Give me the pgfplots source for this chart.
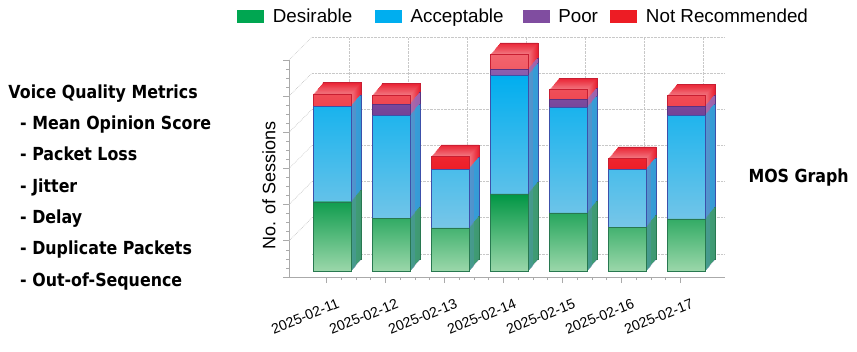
\documentclass[border=0pt]{standalone}
\usepackage{pgfplots}
\usepackage{pgfplotstable}
\pgfplotsset{compat=1.18}
\usepackage{fontspec}
\setmainfont{Liberation Sans}
\newfontfamily\lfont[FakeStretch=0.88]{DejaVu Sans}

\definecolor{gTop}{RGB}{0,150,68}
\definecolor{gBot}{RGB}{155,215,170}
\definecolor{gSide}{RGB}{40,170,95}
\definecolor{gEdge}{RGB}{40,120,80}
\definecolor{bTop}{RGB}{0,174,239}
\definecolor{bBot}{RGB}{120,198,232}
\definecolor{bSide}{RGB}{20,176,236}
\definecolor{bEdge}{RGB}{60,80,170}
\definecolor{pTop}{RGB}{140,95,175}
\definecolor{pBot}{RGB}{115,65,150}
\definecolor{pSide}{RGB}{150,105,185}
\definecolor{pEdge}{RGB}{90,50,130}
\definecolor{rTop}{RGB}{242,100,110}
\definecolor{rBot}{RGB}{237,30,40}
\definecolor{rNear}{RGB}{242,120,130}
\definecolor{rFar}{RGB}{234,36,52}
\definecolor{rEdge}{RGB}{200,30,50}
\definecolor{legGreen}{RGB}{0,166,81}
\definecolor{legBlue}{RGB}{0,174,239}
\definecolor{legPurple}{RGB}{128,77,160}
\definecolor{legRed}{RGB}{237,28,36}
\definecolor{gridc}{RGB}{200,200,200}
\definecolor{axisc}{RGB}{170,170,170}

\pgfplotstableread{
x green blue purple red
0 38.3 52.8 0 6.8
1 29.1 57.0 6.2 5.0
2 23.8 32.6 0 7.0
3 42.7 65.6 3.2 8.3
4 32.2 58.2 4.4 5.5
5 24.3 31.9 0 6.1
6 28.8 57.3 4.9 6.0
}\sessions

\begin{document}
\begin{tikzpicture}
\path[use as bounding box] (0,0) rectangle (857pt,351pt);

% back wall grid
\begin{axis}[at={(312pt,97pt)}, anchor=south west, scale only axis,
  width=413pt, height=217pt,
  xmin=-0.737, xmax=6.263, ymin=-3.32, ymax=116.68,
  xtick={-0.1,0.9,1.9,2.9,3.9,4.9,5.9},
  ytick={-3.32,16.68,36.68,56.68,76.68,96.68,116.68},
  xticklabels={}, yticklabels={},
  grid=major, major grid style={gridc, densely dotted, line width=0.7pt},
  axis line style={draw=none}, tick style={draw=none}]
\end{axis}

% extruded depth of the bars (side and top faces)
\begin{axis}[at={(289pt,74pt)}, anchor=south west, scale only axis,
  width=436pt, height=217pt,
  xmin=-0.737, xmax=6.653, ymin=-3.32, ymax=116.68,
  hide axis, clip=false, ybar, bar width=38pt]
% rearmost copy with outline
\addplot[bar shift=0pt, xshift=9.5pt, yshift=11.5pt, fill=rFar, draw=rEdge, line width=0.4pt]
  table[x=x, y expr=\thisrow{green}+\thisrow{blue}+\thisrow{purple}+\thisrow{red}] {\sessions};
\addplot[bar shift=0pt, xshift=9.5pt, yshift=11.5pt, fill=pSide, draw=pEdge, line width=0.4pt]
  table[x=x, y expr=\thisrow{green}+\thisrow{blue}+\thisrow{purple}] {\sessions};
\addplot[bar shift=0pt, xshift=9.5pt, yshift=11.5pt, fill=bSide, draw=bEdge, line width=0.4pt]
  table[x=x, y expr=\thisrow{green}+\thisrow{blue}] {\sessions};
\addplot[bar shift=0pt, xshift=9.5pt, yshift=11.5pt, fill=gSide, draw=gEdge, line width=0.4pt]
  table[x=x, y=green] {\sessions};
\pgfplotsinvokeforeach{9,8,7,6,5,4,3,2,1}{
\addplot[bar shift=0pt, xshift=#1*0.95pt, yshift=#1*1.15pt, fill=rFar!#10!rNear, draw=none]
  table[x=x, y expr=\thisrow{green}+\thisrow{blue}+\thisrow{purple}+\thisrow{red}] {\sessions};
\addplot[bar shift=0pt, xshift=#1*0.95pt, yshift=#1*1.15pt, fill=pSide, draw=none]
  table[x=x, y expr=\thisrow{green}+\thisrow{blue}+\thisrow{purple}] {\sessions};
\addplot[bar shift=0pt, xshift=#1*0.95pt, yshift=#1*1.15pt, fill=bSide, draw=none]
  table[x=x, y expr=\thisrow{green}+\thisrow{blue}] {\sessions};
\addplot[bar shift=0pt, xshift=#1*0.95pt, yshift=#1*1.15pt, fill=gSide, draw=none]
  table[x=x, y=green] {\sessions};
}
\end{axis}

% front axis
\begin{axis}[at={(289pt,74pt)}, anchor=south west, scale only axis,
  width=436pt, height=217pt,
  xmin=-0.737, xmax=6.653, ymin=-3.32, ymax=116.68,
  clip=false, ybar stacked, bar width=38pt,
  axis lines=left, axis line style={-, draw=axisc, line width=0.8pt},
  tick style={axisc, line width=0.7pt}, tick align=outside,
  major tick length=6pt, minor tick length=3pt,
  xtick={-0.1,0.9,1.9,2.9,3.9,4.9,5.9},
  minor x tick num=3,
  ytick={-3.32,16.68,36.68,56.68,76.68,96.68,116.68},
  minor y tick num=3,
  yticklabels={},
  xticklabels={2025-02-11,2025-02-12,2025-02-13,2025-02-14,2025-02-15,2025-02-16,2025-02-17},
  xticklabel style={font=\fontsize{14.2}{15}\selectfont, xshift=10pt, yshift=-15pt, rotate=22, anchor=north east, inner sep=0pt},
  ylabel={No. of Sessions},
  ylabel style={at={(axis description cs:-0.0459,0.4207)}, anchor=center, rotate=0, font=\fontsize{18}{20}\selectfont},
  legend columns=4,
  legend image code/.code={\fill[#1] (0pt,-6.35pt) rectangle (27pt,6.35pt);},
  legend style={at={(axis description cs:-0.1193,1.2014)}, anchor=west, draw=none, fill=none,
    font=\fontsize{18.8}{20}\selectfont, inner sep=0pt, nodes={inner sep=0pt},
    /tikz/every odd column/.append style={column sep=8.7pt},
    /tikz/every even column/.append style={column sep=0pt}},
]
\addlegendimage{fill=legGreen, draw=none}
\addlegendimage{fill=legBlue, draw=none}
\addlegendimage{fill=legPurple, draw=none}
\addlegendimage{fill=legRed, draw=none}
\addplot[forget plot, top color=gTop, bottom color=gBot, draw=gEdge, line width=0.4pt] table[x=x,y=green] {\sessions};
\addplot[forget plot, top color=bTop, bottom color=bBot, draw=bEdge, line width=0.4pt] table[x=x,y=blue] {\sessions};
\addplot[forget plot, top color=pTop, bottom color=pBot, draw=pEdge, line width=0.4pt] table[x=x,y=purple] {\sessions};
\addplot[forget plot, top color=rTop, bottom color=rBot, draw=rEdge, line width=0.4pt] table[x=x,y=red] {\sessions};
\legend{\makebox[102pt][l]{Desirable}, \makebox[112pt][l]{Acceptable}, \makebox[52pt][l]{Poor}, Not Recommended}
\pgfplotsinvokeforeach{16.68,36.68,56.68,76.68,96.68,116.68}{
  \draw[gridc, densely dotted, line width=0.7pt] (axis cs:-0.737,#1) -- ++(23pt,23pt);
}
\end{axis}

\begin{scope}[every node/.style={anchor=base west, inner sep=0pt, font=\lfont\bfseries\fontsize{18}{20}\selectfont}]
\node at (8.3pt,252.7pt) {Voice Quality Metrics};
\node at (20pt,221.4pt) {- Mean Opinion Score};
\node at (20pt,190.1pt) {- Packet Loss};
\node at (20pt,158.8pt) {- Jitter};
\node at (20pt,127.5pt) {- Delay};
\node at (20pt,96.2pt) {- Duplicate Packets};
\node at (20pt,64.9pt) {- Out-of-Sequence};
\node at (748.3pt,168.3pt) {MOS Graph};
\end{scope}
\end{tikzpicture}
\end{document}
